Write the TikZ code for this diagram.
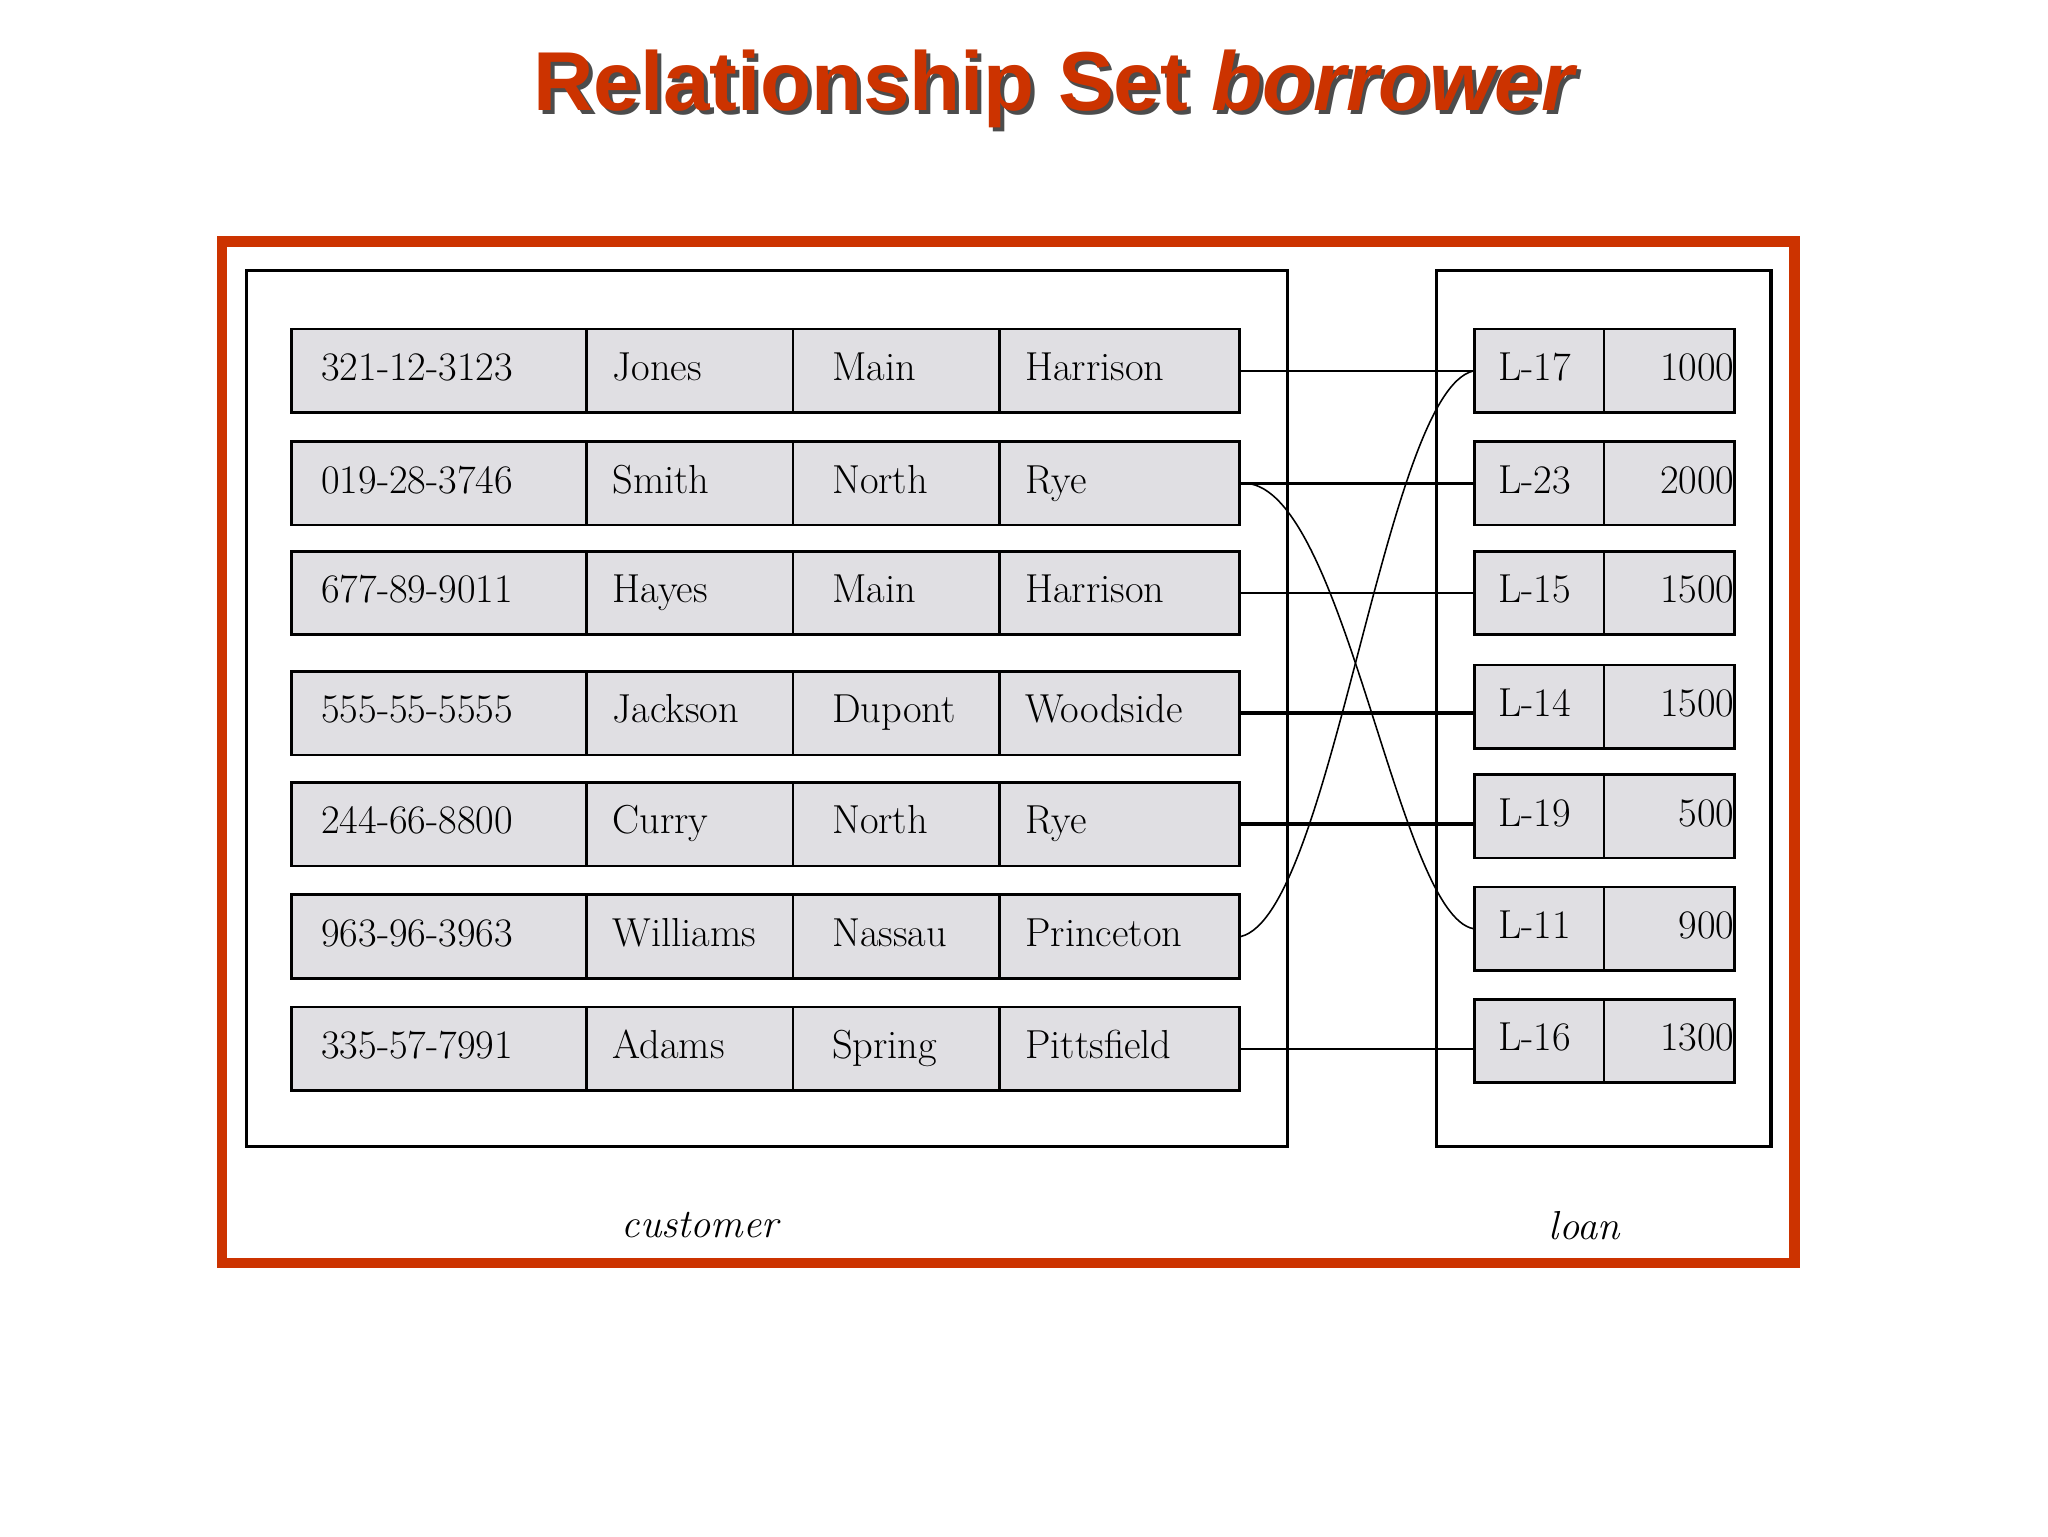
\documentclass[tikz,border=0pt]{standalone}
\usepackage{fontspec}
\newfontfamily\titlefont{Liberation Sans}
\definecolor{fr}{HTML}{CC3300}
\definecolor{cellg}{HTML}{E0DFE3}
\begin{document}
\begin{tikzpicture}[x=1pt,y=-1pt,
  cell/.style={draw=black,line width=2pt,fill=cellg,minimum height=64pt,inner ysep=0pt,inner xsep=0pt,font=\fontsize{31}{31}\selectfont,anchor=north west,text height=22pt,text depth=7pt,align=left},
  lnk/.style={line width=1.2pt},
  lnkb/.style={line width=2.6pt}]
\useasboundingbox (0,0) rectangle (1568,1176);
\node[font=\titlefont\bfseries\fontsize{64}{64}\selectfont,text=black!70] at (811,71) {Relationship Set \textit{borrower}};
\node[font=\titlefont\bfseries\fontsize{64}{64}\selectfont,text=fr] (title) at (808,68) {Relationship Set \textit{borrower}};
\draw[fr,line width=8pt] (170,185) rectangle (1374,967);
\draw[line width=2.5pt] (189,207) rectangle (986,878);
\draw[line width=2.5pt] (1100,207) rectangle (1356,878);
\node[font=\itshape\fontsize{31}{31}\selectfont] (cl) at (536,938) {customer};
\node[font=\itshape\fontsize{31}{31}\selectfont] (ll) at (1213,938) {loan};
\foreach \i/\y/\a/\b/\c/\d in {1/251/321-12-3123/Jones/Main/Harrison,2/337/019-28-3746/Smith/North/Rye,3/421/677-89-9011/Hayes/Main/Harrison,4/513/555-55-5555/Jackson/Dupont/Woodside,5/598/244-66-8800/Curry/North/Rye,6/684/963-96-3963/Williams/Nassau/Princeton,7/770/335-57-7991/Adams/Spring/Pittsfield}{
  \node[cell,minimum width=226pt,text width=226pt] (c\i a) at (222,\y) {\hspace*{23pt}\a};
  \node[cell,minimum width=158pt,text width=158pt] (c\i b) at (448,\y) {\hspace*{20pt}\b};
  \node[cell,minimum width=158pt,text width=158pt] (c\i c) at (606,\y) {\hspace*{30pt}\c};
  \node[cell,minimum width=184pt,text width=184pt] (c\i d) at (764,\y) {\hspace*{20pt}\d};
}
\foreach \i/\y/\a/\b in {1/251/L-17/1000,2/337/L-23/2000,3/421/L-15/1500,4/508/L-14/1500,5/592/L-19/500,6/678/L-11/900,7/764/L-16/1300}{
  \node[cell,minimum width=99pt,text width=99pt] (l\i a) at (1128,\y) {\hspace*{18pt}\a};
  \node[cell,minimum width=100pt,text width=100pt] (l\i b) at (1227,\y) {\hfill\b\hspace*{20pt}};
}
\draw[lnk] (c1d.east) -- (c1d.east -| l1a.west);
\draw[lnkb] (c2d.east) -- (c2d.east -| l2a.west);
\draw[lnk] (c3d.east) -- (c3d.east -| l3a.west);
\draw[lnkb] (c4d.east) -- (c4d.east -| l4a.west);
\draw[lnkb] (c5d.east) -- (c5d.east -| l5a.west);
\draw[lnk] (c7d.east) -- (c7d.east -| l7a.west);
\draw[lnk] ([xshift=4pt]c2d.east) .. controls (1030,375) and (1070,700) .. (l6a.west);
\draw[lnk] (c6d.east) .. controls (1020,700) and (1060,300) .. (l1a.west);
\end{tikzpicture}
\end{document}
